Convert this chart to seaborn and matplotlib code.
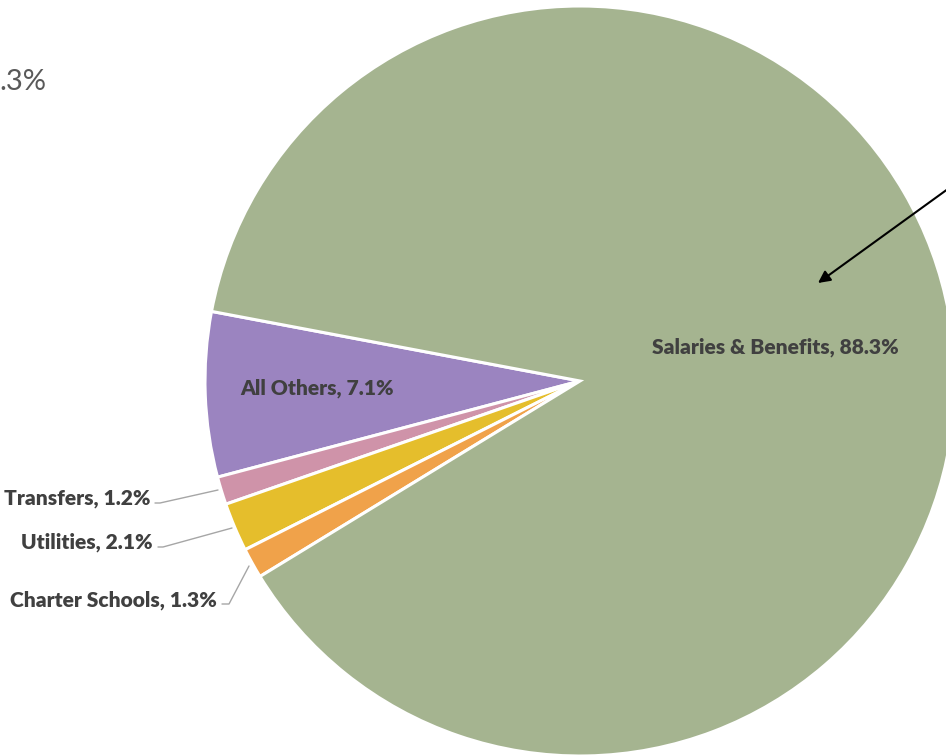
import matplotlib
matplotlib.use("Agg")
import matplotlib.pyplot as plt
import seaborn as sns

# Budget shares by expense category (percent)
categories = ["All Others", "Transfers", "Utilities", "Charter Schools", "Salaries & Benefits"]
shares = [7.1, 1.2, 2.1, 1.3, 88.3]
colors = ["#9B84C0", "#CF93A9", "#E5BE2C", "#F0A24A", "#A5B490"]

sns.set_theme(style="white")
plt.rcParams["font.family"] = ["Lato", "DejaVu Sans"]

W, H = 946, 756
fig = plt.figure(figsize=(W / 100, H / 100), dpi=100)
ax = fig.add_axes([0, 0, 1, 1])
ax.set_xlim(0, W)
ax.set_ylim(0, H)
ax.set_aspect("equal")
ax.axis("off")

cx, cy, r = 580, H - 381, 375
ax.pie(shares, colors=colors, startangle=169.3, counterclock=True,
       center=(cx, cy), radius=r,
       wedgeprops=dict(edgecolor="white", linewidth=2.2))
ax.set_xlim(0, W)
ax.set_ylim(0, H)

txt = "#404040"
fs = 15.1

def lbl(i):
    return f"{categories[i]}, {shares[i]:.1f}%"

# inside labels
ax.text(775, H - 347, lbl(4), ha="center", va="center", fontsize=fs,
        fontweight="heavy", color=txt)
ax.text(317, H - 388, lbl(0), ha="center", va="center", fontsize=fs,
        fontweight="heavy", color=txt)

# outside labels with leader lines
lead = "#A6A6A6"
outside = [
    (1, 150, 498, [(155, 503), (160, 503), (218, 490)]),
    (2, 153, 542, [(158, 547), (163, 547), (232, 528)]),
    (3, 217, 600, [(222, 604), (229, 604), (249, 566)]),
]
for i, x, y, pts in outside:
    ax.text(x, H - y, lbl(i), ha="right", va="center", fontsize=fs,
            fontweight="heavy", color=txt)
    xs = [p[0] for p in pts]
    ys = [H - p[1] for p in pts]
    ax.plot(xs, ys, color=lead, lw=1.0)

# stray total text at the top left
ax.text(46, H - 82, ".3%", ha="right", va="center", fontsize=21,
        color="#595959")

# pointer arrow into the largest slice
ax.annotate("", xy=(818, H - 283), xytext=(952, H - 186),
            arrowprops=dict(arrowstyle="-|>", color="black", lw=1.5,
                            mutation_scale=18, shrinkA=0, shrinkB=0))

fig.savefig("out.png", dpi=100)
